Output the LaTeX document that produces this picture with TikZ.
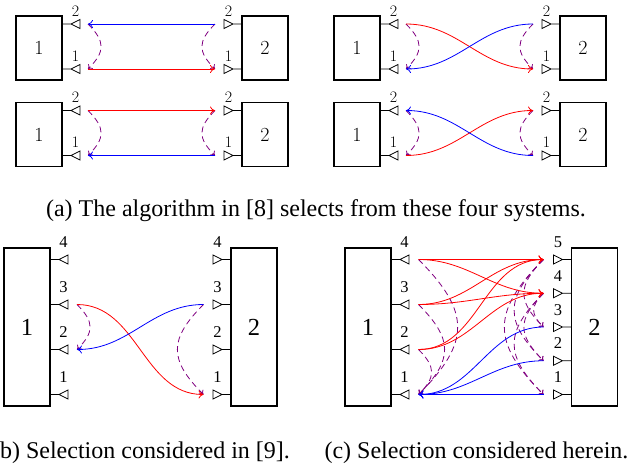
\documentclass[tikz,border=0pt]{standalone}
\usepackage{fontspec}
\newfontfamily\timesfont{Liberation Serif}
\usetikzlibrary{arrows.meta}

\definecolor{sigred}{RGB}{255,0,0}
\definecolor{sigblue}{RGB}{0,0,255}
\definecolor{leak}{RGB}{128,0,128}

\tikzset{
  sysbox/.style={draw, line width=1.5pt, minimum width=46pt, inner sep=0pt},
  cmbox/.style={font=\fontsize{20}{20}\selectfont},
  tmbox/.style={font=\timesfont\fontsize{24.5}{24.5}\selectfont},
  cmport/.style={font=\fontsize{16}{16}\selectfont, anchor=base, inner sep=0pt},
  tmport/.style={font=\timesfont\fontsize{16.5}{16.5}\selectfont, anchor=base, inner sep=0pt},
  caption/.style={font=\timesfont\fontsize{24}{24}\selectfont, anchor=base, inner sep=0pt},
  portline/.style={line width=0.8pt},
  lport/.pic={\draw[portline] (0,0) -- (9,0) -- (18,-4.5) -- (18,4.5) -- (9,0);},
  rport/.pic={\draw[portline] (0,0) -- (-9,0) -- (-18,-4.5) -- (-18,4.5) -- (-9,0);},
  fwd/.style={draw=sigred, line width=0.8pt, -{To[length=5pt,width=8pt]}},
  bwd/.style={draw=sigblue, line width=0.8pt, -{To[length=5pt,width=8pt]}},
  leakage/.style={draw=leak, line width=0.8pt, dash pattern=on 6pt off 4pt,
    -{To[length=4pt,width=6.5pt]}, looseness=1.4},
  sweep/.style={out=0, in=180},
  backsweep/.style={out=180, in=0},
}

% Two single-antenna-pair systems with self-interference paths
\newcommand\pairsystem[3]{%
  \begin{scope}[shift={(#2,#3)}]
    \node[sysbox, cmbox, minimum height=64pt] (#1-box1) at (23,32) {1};
    \node[sysbox, cmbox, minimum height=64pt] (#1-box2) at (249,32) {2};
    \foreach \p/\yy in {2/8, 1/53} {
      \pic at (46,\yy) {lport};
      \pic at (226,\yy) {rport};
      \node[cmport] (#1-ln\p) at (59.5,\yy-8) {\p};
      \node[cmport] (#1-rn\p) at (212.5,\yy-8) {\p};
      \coordinate (#1-L\p) at (72,\yy);
      \coordinate (#1-R\p) at (199,\yy);
    }
    \draw[leakage] (#1-L2) to[bend left=45] (#1-L1);
    \draw[leakage] (#1-R2) to[bend right=45] (#1-R1);
  \end{scope}}

\begin{document}
\begin{tikzpicture}[x=1pt, y=-1pt]
  \useasboundingbox (0,0) rectangle (633,466);

  % (a) the four candidate systems
  \pairsystem{tl}{16}{16}
  \draw[fwd] (tl-L1) -- (tl-R1);
  \draw[bwd] (tl-R2) -- (tl-L2);

  \pairsystem{bl}{16}{102.5}
  \draw[fwd] (bl-L2) -- (bl-R2);
  \draw[bwd] (bl-R1) -- (bl-L1);

  \pairsystem{tr}{334}{16}
  \draw[fwd] (tr-L2) to[sweep] (tr-R1);
  \draw[bwd] (tr-R2) to[backsweep] (tr-L1);

  \pairsystem{br}{334}{102.5}
  \draw[fwd] (br-L1) to[sweep] (br-R2);
  \draw[bwd] (br-R1) to[backsweep] (br-L2);

  \node[caption] (capa) at (316,216.7) {(a) The algorithm in [8] selects from these four systems.};

  % (b) four ports on each side
  \node[sysbox, tmbox, minimum height=158pt] (b-box1) at (27,327) {1};
  \node[sysbox, tmbox, minimum height=158pt] (b-box2) at (254,327) {2};
  \foreach \p/\yy in {4/259.5, 3/304.5, 2/349.5, 1/394.5} {
    \pic at (50,\yy) {lport};
    \pic at (231,\yy) {rport};
    \node[tmport] (b-ln\p) at (63.5,\yy-12.5) {\p};
    \node[tmport] (b-rn\p) at (217.5,\yy-12.5) {\p};
    \coordinate (b-L\p) at (77,\yy);
    \coordinate (b-R\p) at (203.5,\yy);
  }
  \draw[leakage] (b-L3) to[bend left=45] (b-L2);
  \draw[leakage] (b-R3) to[bend right=45] (b-R1);
  \draw[fwd] (b-L3) to[sweep] (b-R1);
  \draw[bwd] (b-R3) to[backsweep] (b-L2);

  \node[caption] (capb) at (141,458) {(b) Selection considered in [9].};

  % (c) four ports on system 1, five on system 2
  \node[sysbox, tmbox, minimum height=158pt] (c-box1) at (368,327) {1};
  \node[sysbox, tmbox, minimum height=158pt] (c-box2) at (594.5,327) {2};
  \foreach \p/\yy in {4/259.5, 3/304.5, 2/349.5, 1/394.5} {
    \pic at (391,\yy) {lport};
    \node[tmport] (c-ln\p) at (404.5,\yy-12.5) {\p};
    \coordinate (c-L\p) at (418.5,\yy);
  }
  \foreach \p/\yy in {5/259.5, 4/293.25, 3/327, 2/360.75, 1/394.5} {
    \pic at (571.5,\yy) {rport};
    \node[tmport] (c-rn\p) at (558,\yy-12) {\p};
    \coordinate (c-R\p) at (543.5,\yy);
  }
  \foreach \s in {4,3,2} {
    \draw[leakage] (c-L\s) to[bend left=45] (c-L1);
  }
  \foreach \s in {5,4} {
    \foreach \t in {3,2,1} {
      \draw[leakage] (c-R\s) to[bend right=45] (c-R\t);
    }
  }
  \foreach \s in {4,3,2} {
    \foreach \t in {5,4} {
      \draw[fwd] (c-L\s) to[sweep] (c-R\t);
    }
  }
  \foreach \s in {3,2,1} {
    \draw[bwd] (c-R\s) to[backsweep] (c-L1);
  }

  \node[caption] (capc) at (476.5,458) {(c) Selection considered herein.};
\end{tikzpicture}
\end{document}
